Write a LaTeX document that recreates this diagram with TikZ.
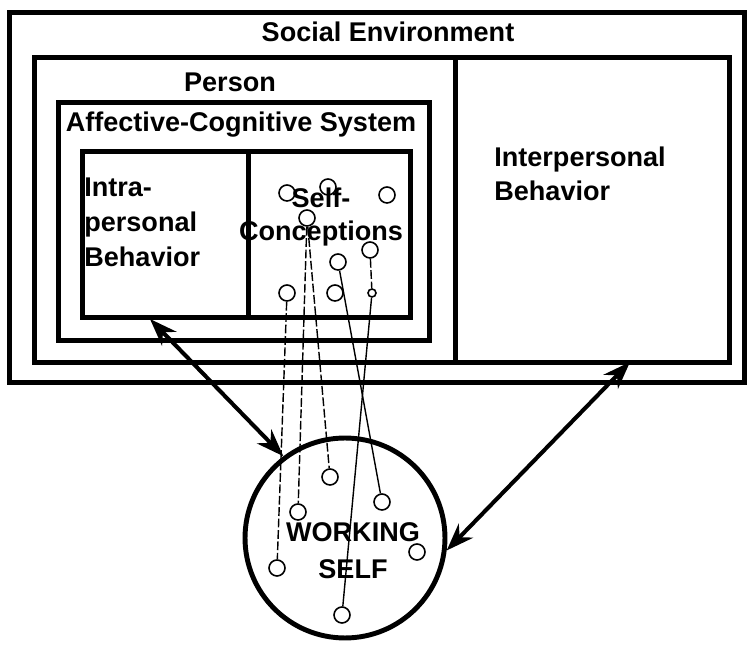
\documentclass[tikz,border=0pt]{standalone}
\usepackage{fontspec}
\setmainfont{Liberation Sans}
\usetikzlibrary{arrows.meta}

\begin{document}
\begin{tikzpicture}
            [x=0.02cm, y=-0.02cm,
            box/.style={draw=black, line width=2.8pt, inner sep=0pt, anchor=north west},
            caption/.style={font=\fontsize{15.4}{19}\selectfont\bfseries, inner sep=0pt},
            bubble/.style={circle, draw=black, line width=2.8pt, minimum size=4cm, inner sep=0pt},
            dot/.style={circle, draw=black, line width=0.9pt, minimum size=0.32cm, inner sep=0pt},
            link/.style={draw=black, line width=0.8pt, dash pattern=on 5pt off 1.5pt},
            solidlink/.style={draw=black, line width=0.8pt},
            twoway/.style={line width=2.3pt, {Stealth[length=5.5mm,width=4mm]}-{Stealth[length=5.5mm,width=4mm]}}]

            \useasboundingbox (0,0) rectangle (748,648);

            % boxes
            \node[box, minimum width=14.70cm, minimum height=7.40cm] (social) at (7,10) {};
            \node[box, minimum width=8.42cm, minimum height=6.10cm] (person) at (32,55) {};
            \node[box, minimum width=5.48cm, minimum height=6.10cm] (interp) at (453,55) {};
            \node[box, minimum width=7.42cm, minimum height=4.76cm] (acs) at (56,100) {};
            \node[box, minimum width=3.32cm, minimum height=3.32cm] (intra) at (80,149) {};
            \node[box, minimum width=3.24cm, minimum height=3.32cm] (selfcon) at (246,149) {};
            \node[bubble] (ws) at (345,538) {};

            % texts
            \node[caption] (tsocial) at (388,32) {Social Environment};
            \node[caption] (tperson) at (230,82) {Person};
            \node[caption] (tacs) at (241,125) {Affective-Cognitive System};
            \node[caption, align=left, anchor=west, font=\fontsize{15.4}{20}\selectfont\bfseries] (tintra) at (84,222) {Intra-\\personal\\Behavior};
            \node[caption, align=center] (tselfcon) at (321,217) {Self-\\Conceptions};
            \node[caption, align=left, anchor=west] (tinterp) at (494,174) {Interpersonal\\Behavior};
            \node[caption, align=center, font=\fontsize{15.4}{21}\selectfont\bfseries] (tws) at (353,551) {WORKING\\SELF};

            % self-conceptions
            \node[dot] (sc1) at (287,193) {};
            \node[dot] (sc2) at (328,187) {};
            \node[dot] (sc3) at (387,195) {};
            \node[dot] (sc4) at (307,218) {};
            \node[dot] (sc5) at (370,250) {};
            \node[dot] (sc6) at (338,262) {};
            \node[dot] (sc7) at (287,293) {};
            \node[dot] (sc8) at (335,293) {};
            \node[dot, minimum size=0.16cm] (sc9) at (372,293) {};

            % working self-conceptions
            \node[dot] (ws1) at (330,477) {};
            \node[dot] (ws2) at (298,512) {};
            \node[dot] (ws3) at (382,502) {};
            \node[dot] (ws4) at (277,568) {};
            \node[dot] (ws5) at (417,552) {};
            \node[dot] (ws6) at (342,615) {};

            \draw[link] (sc7) -- (ws4);
            \draw[link] (sc4) -- (ws2);
            \draw[link] (sc4) -- (ws1);
            \draw[solidlink] (sc6) -- (ws3);
            \draw[link] (sc5) -- (sc9);
            \draw[solidlink] (sc9) -- (ws6);

            % arrows
            \coordinate (la) at (150,319);
            \coordinate (ra) at (630,362);
            \draw[twoway] (la) -- (ws.127);
            \draw[twoway] (ra) -- (ws.-7);

        \end{tikzpicture}
\end{document}
